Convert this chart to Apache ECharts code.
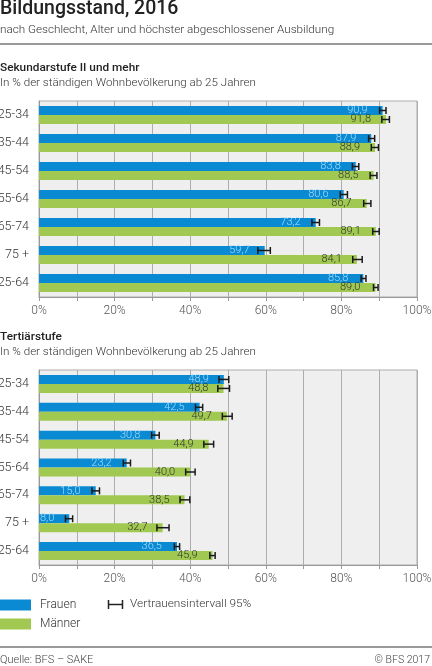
<!DOCTYPE html>
<html>
<head>
<meta charset="utf-8">
<script src="https://cdn.jsdelivr.net/npm/echarts@6/dist/echarts.min.js"></script>
<style>
html,body{margin:0;padding:0;background:#fff;}
#c{width:432px;height:666px;}
</style>
</head>
<body>
<div id="c"></div>
<script>
const categories = ['25-34','35-44','45-54','55-64','65-74','75 +','25-64'];
const xTicks = [0,20,40,60,80,100];

const sekFrauen = [90.9,87.9,83.8,80.6,73.2,59.7,85.8];
const sekMaenner = [91.8,88.9,88.5,86.7,89.1,84.1,89.0];
const sekFrauenLo = [90.1,87.2,82.9,79.7,72.2,57.9,85.2];
const sekFrauenHi = [91.8,88.8,84.6,81.6,74.2,61.2,86.5];
const sekMaennerLo = [90.7,87.9,87.6,85.9,88.3,83.0,88.5];
const sekMaennerHi = [92.7,89.8,89.4,87.8,90.0,85.5,89.7];

const terFrauen = [48.9,42.5,30.8,23.2,15.0,8.0,36.5];
const terMaenner = [48.8,49.7,44.9,40.0,38.5,32.7,45.9];
const terFrauenLo = [47.6,41.4,29.8,22.3,14.0,7.0,35.8];
const terFrauenHi = [50.2,43.3,31.8,24.2,16.0,8.9,37.2];
const terMaennerLo = [47.3,48.5,43.6,38.8,37.3,31.2,45.2];
const terMaennerHi = [50.4,51.1,46.2,41.3,39.9,34.4,46.6];

const BLUE = '#0a8ad2';
const GREEN = '#a1c850';
const FONT = 'Roboto';

const fmt = v => v.toFixed(1).replace('.', ',');

function errData(lo, hi, side) {
  return lo.map((l, i) => [l, hi[i], i, side]);
}

function renderErr(params, api) {
  const lo = api.value(0), hi = api.value(1), ci = api.value(2), side = api.value(3);
  const p1 = api.coord([lo, ci]);
  const p2 = api.coord([hi, ci]);
  const off = side === 0 ? -4.5 : 4.5;
  const y = p1[1] + off;
  const h = 3.5;
  const st = { stroke: '#1a1a1a', lineWidth: 1.5 };
  return {
    type: 'group',
    children: [
      { type: 'line', shape: { x1: p1[0], y1: y, x2: p2[0], y2: y }, style: st },
      { type: 'line', shape: { x1: p1[0], y1: y - h, x2: p1[0], y2: y + h }, style: st },
      { type: 'line', shape: { x1: p2[0], y1: y - h, x2: p2[0], y2: y + h }, style: st }
    ]
  };
}

function barSeries(name, data, idx, color, labelColor) {
  return {
    name: name, type: 'bar', xAxisIndex: idx, yAxisIndex: idx,
    data: data, barWidth: 9, barGap: '0%', itemStyle: { color: color },
    label: {
      show: true, position: 'insideRight', distance: 15,
      formatter: p => fmt(p.value), color: labelColor,
      fontFamily: FONT, fontSize: 11, fontWeight: 300
    },
    silent: true, animation: false
  };
}

function errSeries(data, idx) {
  return {
    type: 'custom', xAxisIndex: idx, yAxisIndex: idx,
    renderItem: renderErr, data: data,
    encode: { x: [0, 1], y: 2 }, silent: true, animation: false, z: 5
  };
}

function xAxis(idx) {
  return {
    type: 'value', gridIndex: idx, min: 0, max: 100, interval: 10,
    axisLine: { show: true, lineStyle: { color: '#999' } },
    axisTick: { show: true, length: 4, lineStyle: { color: '#999' } },
    splitLine: { show: true, lineStyle: { color: '#adadad', width: 1 } },
    axisLabel: {
      formatter: v => xTicks.indexOf(v) >= 0 ? v + '%' : '',
      color: '#555', fontFamily: FONT, fontSize: 12, fontWeight: 300, margin: 8
    }
  };
}

function yAxis(idx) {
  return {
    type: 'category', gridIndex: idx, data: categories, inverse: true,
    axisLine: { show: true, lineStyle: { color: '#999' } },
    axisTick: { show: false },
    axisLabel: { color: '#333', fontFamily: FONT, fontSize: 12.5, fontWeight: 300, margin: 10 }
  };
}

const gridStyle = { show: true, backgroundColor: '#efefef', borderColor: '#adadad', borderWidth: 1, containLabel: false, outerBoundsMode: 'none' };

const chart = echarts.init(document.getElementById('c'), null, { renderer: 'canvas' });
chart.setOption({
  animation: false,
  textStyle: { fontFamily: FONT },
  grid: [
    Object.assign({ left: 39, right: 15, top: 101, height: 196 }, gridStyle),
    Object.assign({ left: 39, right: 15, top: 370, height: 195 }, gridStyle)
  ],
  xAxis: [xAxis(0), xAxis(1)],
  yAxis: [yAxis(0), yAxis(1)],
  legend: {
    data: ['Frauen', 'Männer'], orient: 'vertical', left: 0, top: 599,
    itemWidth: 31, itemHeight: 11, itemGap: 7, padding: 0, icon: 'rect',
    selectedMode: false,
    textStyle: { color: '#333', fontFamily: FONT, fontSize: 12, fontWeight: 300, padding: [0, 0, 0, 4] }
  },
  series: [
    barSeries('Frauen', sekFrauen, 0, BLUE, '#a6dcff'),
    barSeries('Männer', sekMaenner, 0, GREEN, '#333'),
    errSeries(errData(sekFrauenLo, sekFrauenHi, 0), 0),
    errSeries(errData(sekMaennerLo, sekMaennerHi, 1), 0),
    barSeries('Frauen', terFrauen, 1, BLUE, '#a6dcff'),
    barSeries('Männer', terMaenner, 1, GREEN, '#333'),
    errSeries(errData(terFrauenLo, terFrauenHi, 0), 1),
    errSeries(errData(terMaennerLo, terMaennerHi, 1), 1)
  ],
  graphic: [
    { type: 'text', left: 0, top: -1, style: { text: 'Bildungsstand, 2016', fill: '#222', font: '500 19.5px Roboto' } },
    { type: 'text', left: 0, top: 24, style: { text: 'nach Geschlecht, Alter und höchster abgeschlossener Ausbildung', fill: '#333', font: '300 11.7px Roboto' } },
    { type: 'rect', shape: { x: 0, y: 43, width: 432, height: 2 }, style: { fill: '#999' } },
    { type: 'text', left: 0, top: 62, style: { text: 'Sekundarstufe II und mehr', fill: '#222', font: '500 11.8px Roboto' } },
    { type: 'text', left: 0, top: 77, style: { text: 'In % der ständigen Wohnbevölkerung ab 25 Jahren', fill: '#333', font: '300 11.6px Roboto' } },
    { type: 'text', left: 0, top: 331, style: { text: 'Tertiärstufe', fill: '#222', font: '500 11.8px Roboto' } },
    { type: 'text', left: 0, top: 346, style: { text: 'In % der ständigen Wohnbevölkerung ab 25 Jahren', fill: '#333', font: '300 11.6px Roboto' } },
    { type: 'line', shape: { x1: 108.5, y1: 600, x2: 108.5, y2: 609 }, style: { stroke: '#222', lineWidth: 1.5 } },
    { type: 'line', shape: { x1: 122.5, y1: 600, x2: 122.5, y2: 609 }, style: { stroke: '#222', lineWidth: 1.5 } },
    { type: 'line', shape: { x1: 108.5, y1: 604.5, x2: 122.5, y2: 604.5 }, style: { stroke: '#222', lineWidth: 1.5 } },
    { type: 'text', left: 130, top: 598, style: { text: 'Vertrauensintervall 95%', fill: '#333', font: '300 11.8px Roboto' } },
    { type: 'rect', shape: { x: 0, y: 646, width: 432, height: 2 }, style: { fill: '#999' } },
    { type: 'text', left: 0, top: 655, style: { text: 'Quelle: BFS – SAKE', fill: '#444', font: '300 11px Roboto' } },
    { type: 'text', right: 2, top: 655, style: { text: '© BFS 2017', fill: '#444', font: '300 10.5px Roboto' } }
  ]
});
</script>
</body>
</html>
